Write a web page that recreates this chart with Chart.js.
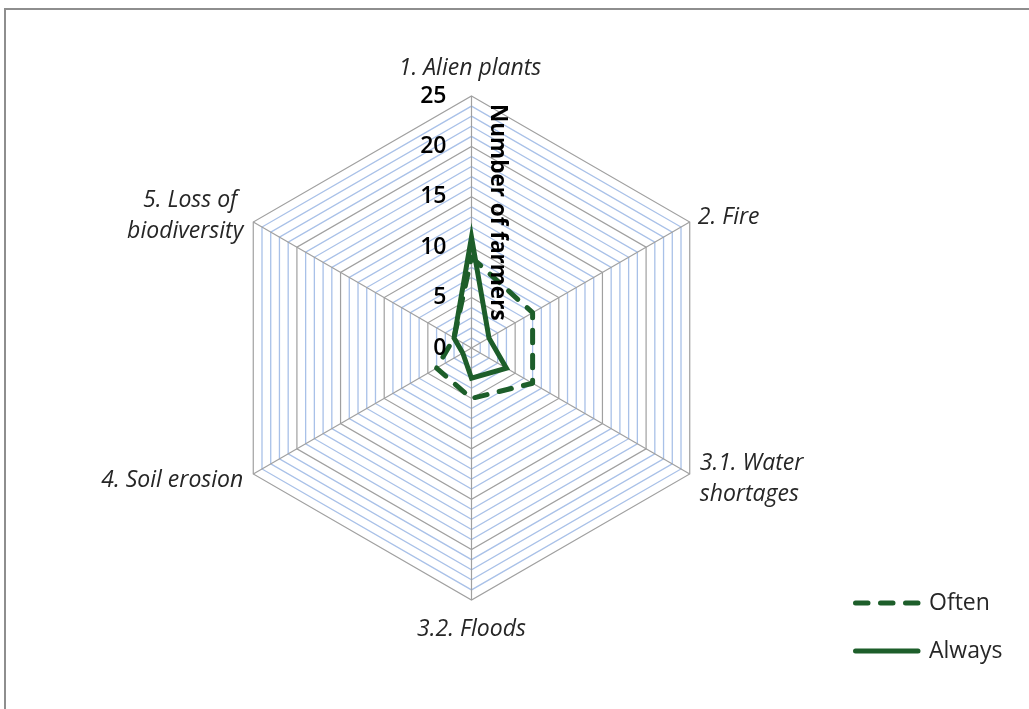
<!DOCTYPE html>
<html>
<head>
<meta charset="utf-8">
<script src="https://cdn.jsdelivr.net/npm/chart.js@4/dist/chart.umd.min.js"></script>
<style>
  html, body { margin: 0; padding: 0; background: #fff; overflow: hidden; }
  #wrap { position: relative; width: 1029px; height: 709px; overflow: hidden; }
  #frame { position: absolute; left: 4px; top: 8px; width: 1100px; height: 800px;
           border: 2px solid #8e8e8e; box-sizing: border-box; }
  canvas { position: absolute; left: 0; top: 0; }
</style>
</head>
<body>
<div id="wrap">
  <div id="frame"></div>
  <canvas id="c" width="1029" height="709"></canvas>
</div>
<script>
// Threat categories (multi-line labels as arrays)
const categories = [
  ['1. Alien plants'],
  ['2. Fire'],
  ['3.1. Water', 'shortages'],
  ['3.2. Floods'],
  ['4. Soil erosion'],
  ['5. Loss of ', 'biodiversity']
];
// Number of farmers per category
const often  = [9, 7, 7, 5, 4, 2];
const always = [11, 2, 4, 3, 1, 2];
const seriesNames = ['Often', 'Always'];
const tickLabels = [0, 5, 10, 15, 20, 25];
const axisTitle = 'Number of farmers';

const GREEN = '#1d5e2a';
const MAJOR = '#a0a0a0';
const MINOR = '#a9c1e8';
const FONT = '"Open Sans", "Liberation Sans", sans-serif';
const DASH = [12.5, 12.5];
const LW = 5;

// label anchor tweaks per category: [dx, dy, align]
const labelPlace = [
  [-1.5, -28, 'center'],
  [8, -5, 'left'],
  [10, 4.5, 'left'],
  [0, 29, 'center'],
  [-10, 6, 'right'],
  [-10, -6, 'right']
];

const decorations = {
  id: 'decorations',
  afterDraw(chart) {
    const ctx = chart.ctx;
    const s = chart.scales.r;
    ctx.save();

    // category labels
    ctx.fillStyle = '#262626';
    ctx.font = 'italic 23px ' + FONT;
    ctx.textBaseline = 'middle';
    const lh = 31;
    categories.forEach((lines, i) => {
      const p = s.getPointPosition(i, s.drawingArea);
      const [dx, dy, align] = labelPlace[i];
      ctx.textAlign = align;
      const y0 = p.y + dy - (lines.length - 1) * lh / 2;
      lines.forEach((t, k) => ctx.fillText(t, p.x + dx, y0 + k * lh));
    });

    // tick labels along the vertical axis
    ctx.fillStyle = '#000';
    ctx.font = '600 23px ' + FONT;
    ctx.textAlign = 'right';
    tickLabels.forEach(v => {
      const d = s.getDistanceFromCenterForValue(v);
      ctx.fillText(String(v), s.xCenter - 25, s.yCenter - d);
    });

    // rotated axis title
    ctx.save();
    ctx.translate(s.xCenter + 26, s.yCenter - s.drawingArea + 8);
    ctx.rotate(Math.PI / 2);
    ctx.font = 'bold 22.5px ' + FONT;
    ctx.textAlign = 'left';
    ctx.fillText(axisTitle, 0, 0);
    ctx.restore();

    // legend
    const lx0 = 855.5, lx1 = 918;
    const ly = [603, 651];
    ctx.strokeStyle = GREEN;
    ctx.lineWidth = LW;
    ctx.lineCap = 'round';
    seriesNames.forEach((name, k) => {
      ctx.setLineDash(k === 0 ? DASH : []);
      ctx.beginPath();
      ctx.moveTo(lx0, ly[k]);
      ctx.lineTo(lx1, ly[k]);
      ctx.stroke();
    });
    ctx.setLineDash([]);
    ctx.fillStyle = '#262626';
    ctx.font = '23px ' + FONT;
    ctx.textAlign = 'left';
    seriesNames.forEach((name, k) => ctx.fillText(name, 929, ly[k]));

    ctx.restore();
  }
};

new Chart(document.getElementById('c'), {
  type: 'radar',
  data: {
    labels: categories,
    datasets: [
      {
        label: seriesNames[1], data: always, order: 0,
        borderColor: GREEN, backgroundColor: 'transparent', fill: false,
        borderWidth: LW, borderJoinStyle: 'miter', pointRadius: 0, pointHoverRadius: 0
      },
      {
        label: seriesNames[0], data: often, order: 1,
        borderColor: GREEN, backgroundColor: 'transparent', fill: false,
        borderWidth: LW, borderDash: DASH, borderCapStyle: 'round', borderJoinStyle: 'round',
        pointRadius: 0, pointHoverRadius: 0
      }
    ]
  },
  options: {
    responsive: false,
    animation: false,
    events: [],
    plugins: { legend: { display: false }, tooltip: { enabled: false } },
    scales: {
      r: {
        min: 0, max: 25,
        ticks: { display: false, stepSize: 1 },
        pointLabels: { display: false },
        grid: {
          circular: false,
          lineWidth: c => (c.tick && c.tick.value % 5 === 0) ? 1.2 : 1.3,
          color: c => (c.tick && c.tick.value % 5 === 0) ? MAJOR : MINOR
        },
        angleLines: { display: true, color: MAJOR, lineWidth: 1.2 },
        afterFit(scale) {
          scale.xCenter = 471.5;
          scale.yCenter = 348;
          scale.drawingArea = 252;
        }
      }
    }
  },
  plugins: [decorations]
});
</script>
</body>
</html>
